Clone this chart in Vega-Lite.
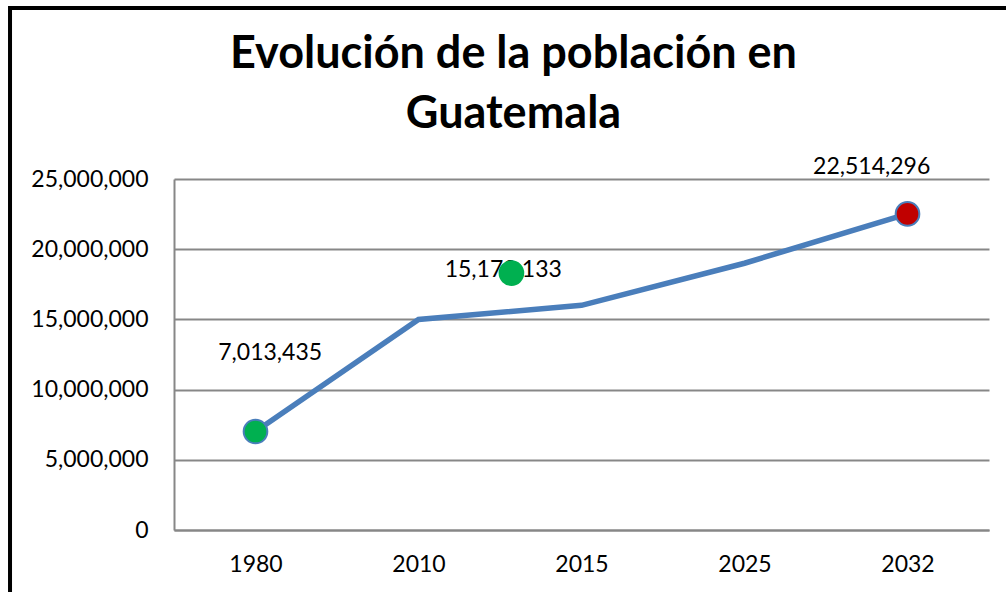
{
  "$schema": "https://vega.github.io/schema/vega-lite/v6.json",
  "autosize": {"type": "none"},
  "width": 815,
  "height": 351,
  "padding": {"left": 174, "top": 179, "right": 17, "bottom": 62},
  "background": "white",
  "config": {
    "view": {"stroke": null},
    "font": "Lato",
    "axis": {"labelFont": "Lato", "labelColor": "black"}
  },
  "title": {
    "text": ["Evolución de la población en", "Guatemala"],
    "font": "Lato",
    "fontSize": 45,
    "fontWeight": "bold",
    "color": "black",
    "lineHeight": 60,
    "anchor": "middle",
    "dx": -68,
    "dy": 131,
    "offset": 0
  },
  "datasets": {
    "series": [
      {"year": "1980", "idx": 0, "population": 7013435},
      {"year": "2010", "idx": 1, "population": 15000000},
      {"year": "2015", "idx": 2, "population": 16000000},
      {"year": "2025", "idx": 3, "population": 19000000},
      {"year": "2032", "idx": 4, "population": 22514296}
    ],
    "markers": [
      {"idx": 0, "population": 7013435, "kind": "verde"},
      {"idx": 4, "population": 22514296, "kind": "rojo"},
      {"idx": 1.57, "population": 18300000, "kind": "verde suelto"}
    ],
    "labels": [
      {"idx": 0.09, "population": 12600000, "label": "7,013,435"},
      {"idx": 1.52, "population": 18500000, "label": "15,173,133"},
      {"idx": 3.78, "population": 25850000, "label": "22,514,296"}
    ],
    "frame": [
      {"x0": -1.506, "x1": 6, "y0": 37180000, "y1": -12000000}
    ]
  },
  "layer": [
    {
      "data": {"name": "frame"},
      "mark": {"type": "rect", "fill": null, "stroke": "black", "strokeWidth": 4},
      "encoding": {
        "x": {
          "field": "x0", "type": "quantitative",
          "scale": {"domain": [-0.5, 4.5], "nice": false, "zero": false},
          "axis": {
            "title": null,
            "values": [0, 1, 2, 3, 4],
            "labelExpr": "['1980','2010','2015','2025','2032'][datum.value]",
            "grid": false,
            "ticks": false,
            "tickSize": 0,
            "domainColor": "#878787",
            "domainWidth": 2,
            "labelFontSize": 23,
            "labelPadding": 23
          }
        },
        "x2": {"field": "x1"},
        "y": {
          "field": "y0", "type": "quantitative",
          "scale": {"domain": [0, 25000000], "nice": false},
          "axis": {
            "title": null,
            "values": [0, 5000000, 10000000, 15000000, 20000000, 25000000],
            "format": ",d",
            "grid": true,
            "gridColor": "#878787",
            "gridWidth": 2,
            "gridOpacity": 1,
            "ticks": false,
            "tickSize": 0,
            "domainColor": "#878787",
            "domainWidth": 2,
            "labelFontSize": 23,
            "labelPadding": 26
          }
        },
        "y2": {"field": "y1"}
      }
    },
    {
      "data": {"name": "series"},
      "mark": {"type": "line", "color": "#4a7ebb", "strokeWidth": 5.5},
      "encoding": {
        "x": {"field": "idx", "type": "quantitative"},
        "y": {"field": "population", "type": "quantitative"}
      }
    },
    {
      "data": {"name": "labels"},
      "mark": {"type": "text", "fontSize": 23, "color": "black", "align": "center", "baseline": "middle"},
      "encoding": {
        "x": {"field": "idx", "type": "quantitative"},
        "y": {"field": "population", "type": "quantitative"},
        "text": {"field": "label"}
      }
    },
    {
      "data": {"name": "markers"},
      "mark": {"type": "point", "filled": true, "opacity": 1},
      "encoding": {
        "x": {"field": "idx", "type": "quantitative"},
        "y": {"field": "population", "type": "quantitative"},
        "color": {
          "field": "kind", "type": "nominal",
          "scale": {"domain": ["verde", "rojo", "verde suelto"], "range": ["#00b050", "#c00000", "#00b050"]},
          "legend": null
        },
        "stroke": {
          "field": "kind", "type": "nominal",
          "scale": {"domain": ["verde", "rojo", "verde suelto"], "range": ["#4a7ebb", "#4a7ebb", "#00b050"]},
          "legend": null
        },
        "strokeWidth": {"value": 2},
        "size": {
          "field": "kind", "type": "nominal",
          "scale": {"domain": ["verde", "rojo", "verde suelto"], "range": [560, 560, 600]},
          "legend": null
        }
      }
    }
  ]
}
